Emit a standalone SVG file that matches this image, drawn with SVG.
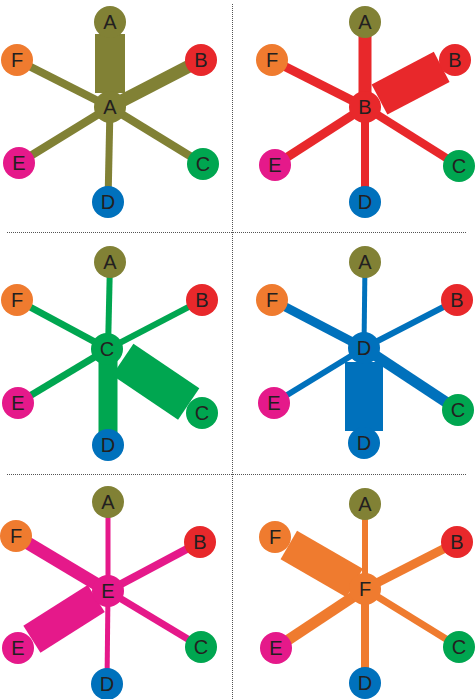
<svg xmlns="http://www.w3.org/2000/svg" width="475" height="699" viewBox="0 0 475 699">
<style>
  .n circle { stroke: none; }
  .n text { font-family: "Liberation Sans", Arial, sans-serif; font-size: 20px; fill: #231f20; text-anchor: middle; }
  .e line { stroke-linecap: butt; }
  .olive { fill: #818135; } .red { fill: #e8282b; } .green { fill: #00a650; }
  .blue { fill: #0071bc; } .pink { fill: #e5198a; } .orange { fill: #ef7b2f; }
  .eo line { stroke: #818135; } .er line { stroke: #e8282b; } .eg line { stroke: #00a650; }
  .eb line { stroke: #0071bc; } .ep line { stroke: #e5198a; } .eor line { stroke: #ef7b2f; }
  .div { stroke: #555; stroke-width: 1; stroke-dasharray: 1 1; fill: none; }
</style>

<g id="dividers">
  <line class="div" x1="232.5" y1="4" x2="232.5" y2="699"/>
  <line class="div" x1="7" y1="232.5" x2="466" y2="232.5"/>
  <line class="div" x1="7" y1="474.5" x2="466" y2="474.5"/>
</g>

<!-- Panel 1: A -->
<g id="panel-A">
  <g id="connectors-A" class="e eo">
    <line x1="110" y1="107" x2="201" y2="60" stroke-width="13"/>
    <line x1="110" y1="107" x2="17" y2="60" stroke-width="8"/>
    <line x1="110" y1="107" x2="19" y2="163" stroke-width="8"/>
    <line x1="110" y1="107" x2="203" y2="164" stroke-width="8"/>
    <line x1="110" y1="107" x2="108" y2="202" stroke-width="7"/>
    <line x1="110" y1="93" x2="110" y2="34" stroke-width="30"/>
  </g>
  <g id="pA-A" class="n"><circle class="olive" cx="110" cy="22" r="16"/><text x="110" y="29">A</text></g>
  <g id="pA-F" class="n"><circle class="orange" cx="17" cy="60" r="16"/><text x="17" y="67">F</text></g>
  <g id="pA-B" class="n"><circle class="red" cx="201" cy="60" r="16"/><text x="201" y="67">B</text></g>
  <g id="pA-center" class="n"><circle class="olive" cx="110" cy="107" r="16"/><text x="110" y="114">A</text></g>
  <g id="pA-E" class="n"><circle class="pink" cx="19" cy="163" r="16"/><text x="19" y="170">E</text></g>
  <g id="pA-C" class="n"><circle class="green" cx="203" cy="164" r="16"/><text x="203" y="171">C</text></g>
  <g id="pA-D" class="n"><circle class="blue" cx="108" cy="202" r="16"/><text x="108" y="209">D</text></g>
</g>

<!-- Panel 2: B -->
<g id="panel-B">
  <g id="connectors-B" class="e er">
    <line x1="365" y1="107" x2="365" y2="22" stroke-width="13"/>
    <line x1="365" y1="107" x2="272" y2="60" stroke-width="9"/>
    <line x1="365" y1="107" x2="275" y2="165" stroke-width="9"/>
    <line x1="365" y1="107" x2="459" y2="166" stroke-width="8"/>
    <line x1="365" y1="107" x2="365" y2="202" stroke-width="8"/>
    <line x1="379.5" y1="99.5" x2="441.7" y2="66.9" stroke-width="34"/>
  </g>
  <g id="pB-A" class="n"><circle class="olive" cx="365" cy="22" r="16"/><text x="365" y="29">A</text></g>
  <g id="pB-F" class="n"><circle class="orange" cx="272" cy="60" r="16"/><text x="272" y="67">F</text></g>
  <g id="pB-B" class="n"><circle class="red" cx="455" cy="60" r="16"/><text x="455" y="67">B</text></g>
  <g id="pB-center" class="n"><circle class="red" cx="365" cy="107" r="16"/><text x="365" y="114">B</text></g>
  <g id="pB-E" class="n"><circle class="pink" cx="275" cy="165" r="16"/><text x="275" y="172">E</text></g>
  <g id="pB-C" class="n"><circle class="green" cx="459" cy="166" r="16"/><text x="459" y="173">C</text></g>
  <g id="pB-D" class="n"><circle class="blue" cx="365" cy="202" r="16"/><text x="365" y="209">D</text></g>
</g>

<!-- Panel 3: C -->
<g id="panel-C">
  <g id="connectors-C" class="e eg">
    <line x1="108" y1="349" x2="110" y2="262" stroke-width="6"/>
    <line x1="108" y1="349" x2="17" y2="300" stroke-width="7"/>
    <line x1="108" y1="349" x2="202" y2="300" stroke-width="6"/>
    <line x1="108" y1="349" x2="18" y2="403" stroke-width="7"/>
    <line x1="108" y1="349" x2="108" y2="445" stroke-width="19"/>
    <line x1="122.8" y1="359.6" x2="188.7" y2="404.1" stroke-width="38"/>
  </g>
  <g id="pC-A" class="n"><circle class="olive" cx="110" cy="262" r="16"/><text x="110" y="269">A</text></g>
  <g id="pC-F" class="n"><circle class="orange" cx="17" cy="300" r="16"/><text x="17" y="307">F</text></g>
  <g id="pC-B" class="n"><circle class="red" cx="202" cy="300" r="16"/><text x="202" y="307">B</text></g>
  <g id="pC-center" class="n"><circle class="green" cx="107" cy="349" r="16"/><text x="107" y="356">C</text></g>
  <g id="pC-E" class="n"><circle class="pink" cx="18" cy="403" r="16"/><text x="18" y="410">E</text></g>
  <g id="pC-C" class="n"><circle class="green" cx="202" cy="413" r="16"/><text x="202" y="420">C</text></g>
  <g id="pC-D" class="n"><circle class="blue" cx="108" cy="445" r="16"/><text x="108" y="452">D</text></g>
</g>

<!-- Panel 4: D -->
<g id="panel-D">
  <g id="connectors-D" class="e eb">
    <line x1="364" y1="348" x2="365" y2="262" stroke-width="5"/>
    <line x1="364" y1="348" x2="272" y2="300" stroke-width="9"/>
    <line x1="364" y1="348" x2="457" y2="300" stroke-width="6"/>
    <line x1="364" y1="348" x2="274" y2="403" stroke-width="6"/>
    <line x1="364" y1="348" x2="458" y2="410" stroke-width="11"/>
    <line x1="364" y1="362" x2="364" y2="431" stroke-width="38"/>
  </g>
  <g id="pD-A" class="n"><circle class="olive" cx="365" cy="262" r="16"/><text x="365" y="269">A</text></g>
  <g id="pD-F" class="n"><circle class="orange" cx="272" cy="300" r="16"/><text x="272" y="307">F</text></g>
  <g id="pD-B" class="n"><circle class="red" cx="457" cy="300" r="16"/><text x="457" y="307">B</text></g>
  <g id="pD-center" class="n"><circle class="blue" cx="364" cy="348" r="16"/><text x="364" y="355">D</text></g>
  <g id="pD-E" class="n"><circle class="pink" cx="274" cy="403" r="16"/><text x="274" y="410">E</text></g>
  <g id="pD-C" class="n"><circle class="green" cx="458" cy="410" r="16"/><text x="458" y="417">C</text></g>
  <g id="pD-D" class="n"><circle class="blue" cx="364" cy="443" r="16"/><text x="364" y="450">D</text></g>
</g>

<!-- Panel 5: E -->
<g id="panel-E">
  <g id="connectors-E" class="e ep">
    <line x1="108" y1="591" x2="108" y2="502" stroke-width="5"/>
    <line x1="108" y1="591" x2="16" y2="536" stroke-width="13"/>
    <line x1="108" y1="591" x2="200" y2="542" stroke-width="8"/>
    <line x1="108" y1="591" x2="201" y2="647" stroke-width="7"/>
    <line x1="108" y1="591" x2="107" y2="684" stroke-width="5"/>
    <line x1="96.2" y1="598.5" x2="31.9" y2="639.2" stroke-width="32"/>
  </g>
  <g id="pE-A" class="n"><circle class="olive" cx="108" cy="502" r="16"/><text x="108" y="509">A</text></g>
  <g id="pE-F" class="n"><circle class="orange" cx="16" cy="536" r="16"/><text x="16" y="543">F</text></g>
  <g id="pE-B" class="n"><circle class="red" cx="200" cy="542" r="16"/><text x="200" y="549">B</text></g>
  <g id="pE-center" class="n"><circle class="pink" cx="108" cy="591" r="16"/><text x="108" y="598">E</text></g>
  <g id="pE-E" class="n"><circle class="pink" cx="18" cy="648" r="16"/><text x="18" y="655">E</text></g>
  <g id="pE-C" class="n"><circle class="green" cx="201" cy="647" r="16"/><text x="201" y="654">C</text></g>
  <g id="pE-D" class="n"><circle class="blue" cx="107" cy="684" r="16"/><text x="107" y="691">D</text></g>
</g>

<!-- Panel 6: F -->
<g id="panel-F">
  <g id="connectors-F" class="e eor">
    <line x1="365" y1="589" x2="365" y2="504" stroke-width="6"/>
    <line x1="365" y1="589" x2="457" y2="542" stroke-width="9"/>
    <line x1="365" y1="589" x2="459" y2="647" stroke-width="7"/>
    <line x1="365" y1="589" x2="276" y2="648" stroke-width="11"/>
    <line x1="365" y1="589" x2="365" y2="683" stroke-width="8"/>
    <line x1="354.6" y1="583" x2="288.8" y2="545" stroke-width="33"/>
  </g>
  <g id="pF-A" class="n"><circle class="olive" cx="365" cy="504" r="16"/><text x="365" y="511">A</text></g>
  <g id="pF-F" class="n"><circle class="orange" cx="275" cy="537" r="16"/><text x="275" y="544">F</text></g>
  <g id="pF-B" class="n"><circle class="red" cx="457" cy="542" r="16"/><text x="457" y="549">B</text></g>
  <g id="pF-center" class="n"><circle class="orange" cx="365" cy="589" r="16"/><text x="365" y="596">F</text></g>
  <g id="pF-E" class="n"><circle class="pink" cx="276" cy="648" r="16"/><text x="276" y="655">E</text></g>
  <g id="pF-C" class="n"><circle class="green" cx="459" cy="647" r="16"/><text x="459" y="654">C</text></g>
  <g id="pF-D" class="n"><circle class="blue" cx="365" cy="683" r="16"/><text x="365" y="690">D</text></g>
</g>
</svg>
